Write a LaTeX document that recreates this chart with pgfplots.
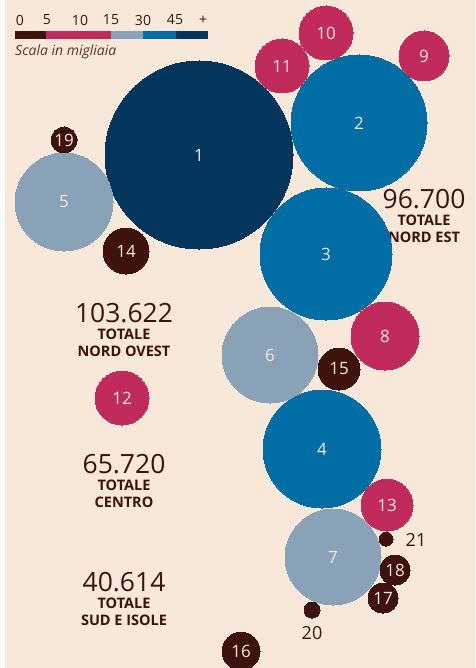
\documentclass[border=0pt]{standalone}
\usepackage{pgfplots}
\usepackage{fontspec}
\setmainfont{Open Sans}
\pgfplotsset{compat=1.18}
\definecolor{bgc}{HTML}{F7E8DA}
\definecolor{navy}{HTML}{04355C}
\definecolor{blu}{HTML}{006EA5}
\definecolor{greyb}{HTML}{8AA2B8}
\definecolor{crim}{HTML}{C02B5C}
\definecolor{brwn}{HTML}{3E130E}
% \bub{x}{y}{radius}{label}{colour}
\newcommand{\bub}[5]{\addplot[only marks, mark=*, mark size=#3pt, #5,
  mark options={draw=#5, fill=#5, line width=0pt},
  nodes near coords={#4},
  nodes near coords style={anchor=center, text=bgc, font=\fontsize{17}{17}\selectfont, inner sep=0pt}]
  coordinates {(#1,#2)};}
\newcommand{\tot}[5]{\node[anchor=center,inner sep=0pt,text=brwn,font=\fontsize{26.5}{26.5}\selectfont] at (axis cs:#1,#2) {#3};
 \node[anchor=center,inner sep=0pt,text=brwn,font=\fontsize{14.5}{14.5}\selectfont\bfseries] at (axis cs:#1,#2+21) {#4};
 \node[anchor=center,inner sep=0pt,text=brwn,font=\fontsize{14.5}{14.5}\selectfont\bfseries] at (axis cs:#1,#2+38) {#5};}
\begin{document}
\begin{tikzpicture}
\begin{axis}[scale only axis, width=475pt, height=668pt, xmin=0, xmax=475, ymin=0, ymax=668,
  y dir=reverse, hide axis, clip=true]
\fill[white] (axis cs:0,0) rectangle (axis cs:475,668);
\fill[bgc] (axis cs:5,0) rectangle (axis cs:475,668);
\fill[brwn] (axis cs:15,31) rectangle (axis cs:46,39);
\fill[crim] (axis cs:46,31) rectangle (axis cs:111,39);
\fill[greyb] (axis cs:111,31) rectangle (axis cs:143,39);
\fill[blu] (axis cs:143,31) rectangle (axis cs:176,39);
\fill[navy] (axis cs:176,31) rectangle (axis cs:208,39);
\bub{199}{155}{94}{1}{navy}
\bub{359}{123}{68}{2}{blu}
\bub{326}{254}{66}{3}{blu}
\bub{322}{449}{59}{4}{blu}
\bub{64}{202}{49}{5}{greyb}
\bub{270}{355}{48}{6}{greyb}
\bub{333}{557}{48}{7}{greyb}
\bub{385}{336}{34}{8}{crim}
\bub{424}{56}{25}{9}{crim}
\bub{326}{33}{27}{10}{crim}
\bub{282}{66}{27}{11}{crim}
\bub{122}{398}{27}{12}{crim}
\bub{387}{505}{26}{13}{crim}
\bub{126}{251}{23}{14}{brwn}
\bub{339}{369}{21}{15}{brwn}
\bub{241}{651}{19}{16}{brwn}
\bub{383}{598}{15}{17}{brwn}
\bub{395}{570}{15}{18}{brwn}
\bub{64}{140}{13}{19}{brwn}
\bub{312}{610}{8}{}{brwn}
\bub{386}{539}{7}{}{brwn}
\foreach \xx/\tt in {20/0,47/5,80/10,111/15,143/30,175/45,203/+}{
 \edef\tmp{\noexpand\node[text=brwn,font=\noexpand\fontsize{14}{14}\noexpand\selectfont] at (axis cs:\xx,20) {\tt};}\tmp}
\node[anchor=west,inner sep=0pt,text=brwn!85!bgc,font=\fontsize{14}{14}\selectfont\itshape] at (axis cs:15,52) {Scala in migliaia};
\tot{124}{313}{103.622}{TOTALE}{NORD OVEST}
\tot{424}{199}{96.700}{TOTALE}{NORD EST}
\tot{124}{464}{65.720}{TOTALE}{CENTRO}
\tot{124}{582}{40.614}{TOTALE}{SUD E ISOLE}
\node[text=brwn,font=\fontsize{18}{18}\selectfont] at (axis cs:416,540) {21};
\node[text=brwn,font=\fontsize{18}{18}\selectfont] at (axis cs:312,633) {20};
\coordinate (bbA) at (axis cs:0,668);
\coordinate (bbB) at (axis cs:475,0);
\end{axis}
\pgfresetboundingbox
\useasboundingbox (bbA) rectangle (bbB);
\end{tikzpicture}
\end{document}
